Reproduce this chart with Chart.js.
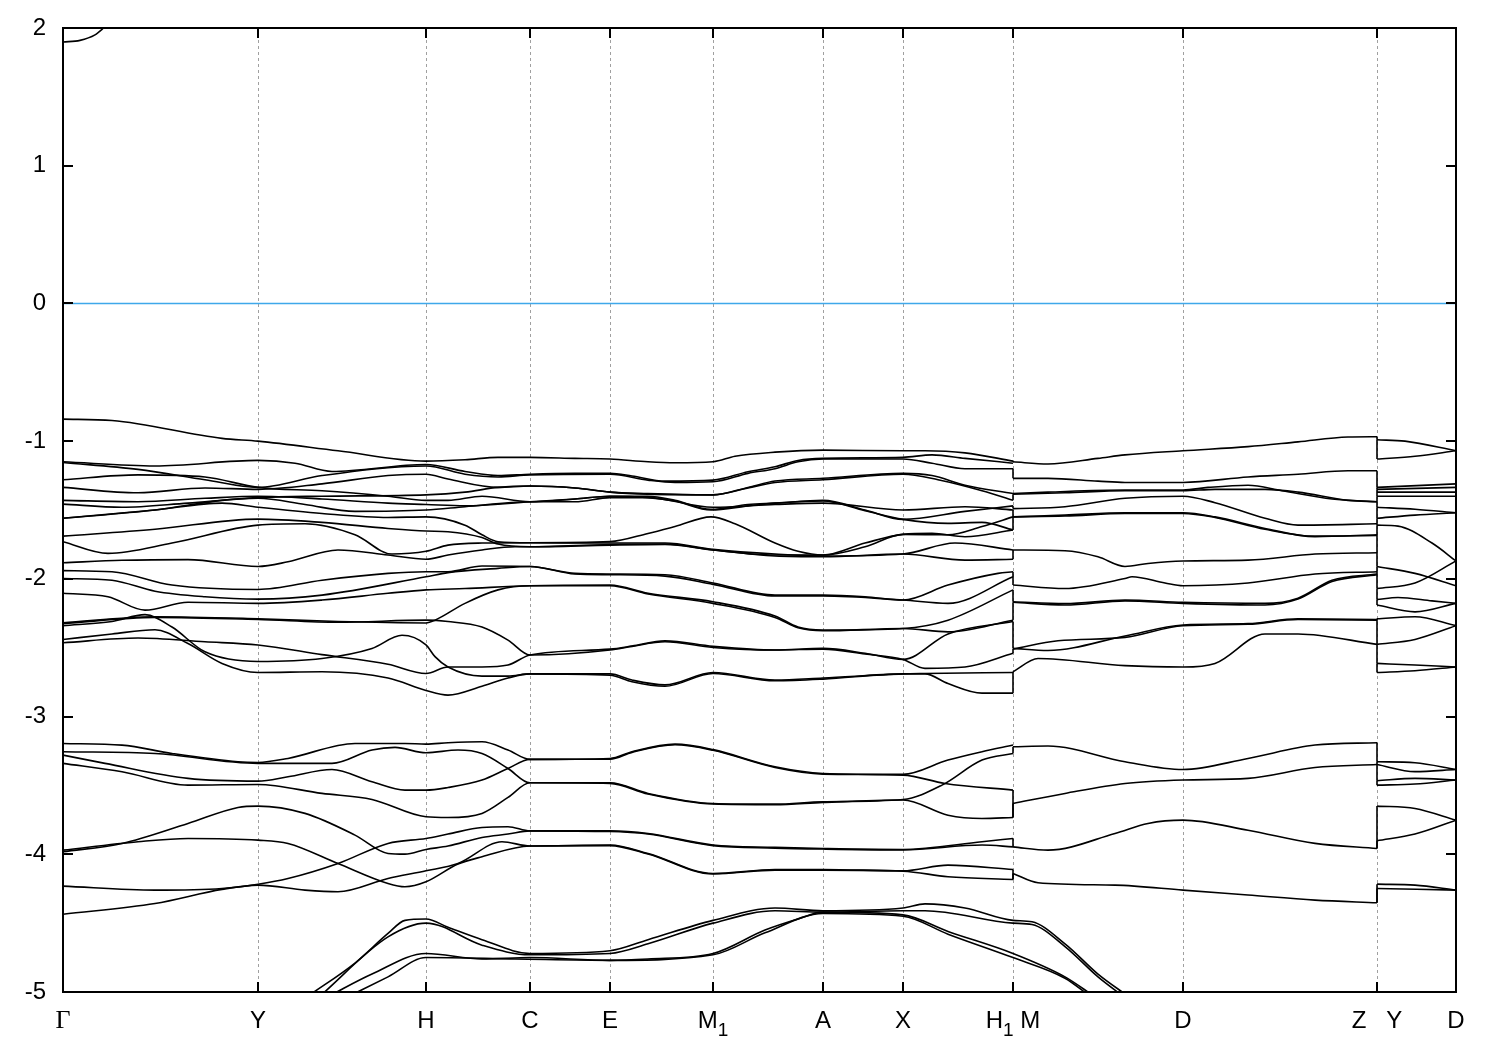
<!DOCTYPE html>
<html><head><meta charset="utf-8">
<script src="https://cdn.jsdelivr.net/npm/chart.js@4/dist/chart.umd.min.js"></script>
<style>html,body{margin:0;padding:0;background:#fff}canvas{display:block}</style>
</head><body>
<canvas id="c" width="1500" height="1050"></canvas>
<script>
// ---- axis data ----
const kTicks = [0,195,363,467,547,650,760,840,950,1120,1314,1393];
const tickLabels = ['Γ','Y','H','C','E','M_1','A','X','H_1 M','D','Z   Y','D'];
const energyTicks = [2,1,0,-1,-2,-3,-4,-5];

// ---- bands: [k, E(eV)] ----
const conductionBand = [[0,1.898],[17,1.91],[32,1.95],[39,1.99],[46,2.04]];
const fermiLine = [[0,0],[1393,0]];

// leg Γ -> H1
const A01 = [[0,-0.84],[49,-0.85],[159,-0.98],[195,-1.00],[275,-1.07],[363,-1.145],[402,-1.135],[435,-1.118],[467,-1.118],[512,-1.125],[547,-1.13],[585,-1.15],[612,-1.157],[650,-1.15],[672,-1.11],[712,-1.08],[760,-1.065],[840,-1.07],[862,-1.07],[902,-1.085],[950,-1.145]];
const A02 = [[0,-1.15],[92,-1.18],[195,-1.14],[232,-1.16],[269,-1.22],[363,-1.17],[402,-1.22],[435,-1.25],[467,-1.24],[512,-1.234],[547,-1.234],[569,-1.253],[602,-1.29],[650,-1.283],[685,-1.222],[712,-1.186],[735,-1.14],[760,-1.125],[840,-1.118],[869,-1.10],[902,-1.125],[950,-1.16]];
const A03 = [[0,-1.155],[75,-1.205],[142,-1.28],[195,-1.336],[259,-1.25],[363,-1.18],[402,-1.24],[435,-1.26],[467,-1.245],[547,-1.24],[585,-1.283],[612,-1.30],[650,-1.295],[685,-1.234],[712,-1.20],[735,-1.15],[760,-1.13],[840,-1.13],[869,-1.16],[902,-1.20],[950,-1.20]];
const A04 = [[0,-1.28],[75,-1.245],[142,-1.26],[195,-1.336],[259,-1.36],[325,-1.40],[363,-1.43],[385,-1.43],[419,-1.40],[467,-1.44],[512,-1.42],[547,-1.40],[585,-1.40],[612,-1.43],[648,-1.495],[685,-1.46],[712,-1.45],[760,-1.43],[802,-1.50],[840,-1.568],[902,-1.51],[950,-1.47]];
const A05 = [[0,-1.336],[75,-1.375],[142,-1.34],[195,-1.35],[259,-1.31],[325,-1.25],[363,-1.24],[385,-1.275],[435,-1.336],[467,-1.326],[512,-1.34],[547,-1.37],[585,-1.38],[650,-1.39],[685,-1.336],[712,-1.29],[760,-1.27],[840,-1.234],[869,-1.25],[902,-1.32],[950,-1.38]];
const A06 = [[0,-1.43],[75,-1.44],[142,-1.415],[195,-1.40],[259,-1.42],[325,-1.45],[363,-1.46],[402,-1.47],[467,-1.44],[512,-1.42],[547,-1.40],[585,-1.41],[612,-1.435],[648,-1.50],[685,-1.47],[712,-1.45],[760,-1.435],[802,-1.505],[840,-1.568],[885,-1.597],[919,-1.59],[950,-1.645]];
const A07 = [[0,-1.457],[59,-1.48],[125,-1.45],[195,-1.415],[242,-1.46],[292,-1.51],[363,-1.50],[402,-1.476],[467,-1.44],[512,-1.44],[547,-1.41],[585,-1.41],[650,-1.48],[712,-1.46],[760,-1.45],[840,-1.50],[902,-1.476],[950,-1.50]];
const A08 = [[0,-1.56],[92,-1.50],[159,-1.43],[195,-1.41],[259,-1.40],[363,-1.39],[402,-1.37],[435,-1.336],[467,-1.326],[512,-1.34],[547,-1.37],[585,-1.385],[650,-1.39],[685,-1.34],[712,-1.30],[760,-1.28],[840,-1.24],[875,-1.28],[919,-1.36],[950,-1.43]];
const A09 = [[0,-1.69],[92,-1.64],[195,-1.566],[259,-1.59],[325,-1.634],[363,-1.653],[385,-1.658],[419,-1.70],[435,-1.747],[467,-1.767],[547,-1.75],[602,-1.747],[650,-1.79],[712,-1.827],[760,-1.827],[802,-1.767],[840,-1.677],[885,-1.68],[919,-1.62],[950,-1.55]];
const A10 = [[0,-1.73],[45,-1.815],[109,-1.74],[195,-1.61],[242,-1.60],[292,-1.68],[329,-1.82],[363,-1.80],[385,-1.755],[419,-1.74],[467,-1.738],[547,-1.74],[602,-1.74],[650,-1.786],[712,-1.82],[760,-1.834],[840,-1.82],[892,-1.74],[950,-1.79]];
const A11 = [[0,-1.883],[59,-1.865],[125,-1.86],[195,-1.91],[225,-1.876],[275,-1.79],[325,-1.827],[363,-1.858],[385,-1.827],[419,-1.79],[452,-1.767],[467,-1.767],[547,-1.755],[602,-1.75],[650,-1.79],[712,-1.834],[760,-1.84],[840,-1.82],[902,-1.864],[950,-1.858]];
const A12 = [[0,-1.56],[92,-1.50],[159,-1.45],[195,-1.48],[259,-1.525],[325,-1.554],[363,-1.55],[402,-1.61],[419,-1.68],[435,-1.73],[467,-1.738],[547,-1.73],[585,-1.67],[612,-1.62],[648,-1.55],[672,-1.60],[712,-1.74],[735,-1.80],[760,-1.827],[802,-1.74],[840,-1.677],[869,-1.67],[902,-1.694],[950,-1.645]];
const A13 = [[0,-1.94],[49,-1.948],[109,-2.045],[195,-2.077],[259,-2.01],[325,-1.96],[363,-1.948],[385,-1.948],[419,-1.907],[467,-1.91],[512,-1.96],[547,-1.965],[602,-1.97],[650,-2.03],[712,-2.118],[760,-2.118],[802,-2.13],[840,-2.154],[885,-2.045],[935,-1.96],[950,-1.948]];
const A14 = [[0,-1.997],[49,-2.01],[92,-2.09],[142,-2.13],[195,-2.147],[259,-2.118],[363,-1.985],[385,-1.955],[435,-1.924],[467,-1.91],[512,-1.965],[547,-1.97],[602,-1.98],[650,-2.04],[712,-2.125],[760,-2.125],[840,-2.154],[885,-2.178],[950,-1.985]];
const A15 = [[0,-2.105],[45,-2.13],[82,-2.227],[125,-2.17],[195,-2.178],[259,-2.154],[325,-2.105],[363,-2.08],[402,-2.07],[467,-2.05],[547,-2.045],[585,-2.105],[650,-2.166],[712,-2.27],[735,-2.35],[760,-2.372],[840,-2.36],[885,-2.30],[950,-2.08]];
const A16 = [[0,-2.32],[92,-2.275],[195,-2.29],[275,-2.31],[363,-2.32],[372,-2.30],[402,-2.178],[435,-2.08],[467,-2.05],[547,-2.05],[585,-2.11],[650,-2.178],[712,-2.28],[735,-2.355],[760,-2.377],[840,-2.36],[885,-2.385],[950,-2.30]];
const A17 = [[0,-2.325],[92,-2.28],[195,-2.295],[275,-2.315],[363,-2.30],[385,-2.31],[419,-2.35],[445,-2.445],[467,-2.553],[547,-2.517],[569,-2.49],[602,-2.457],[650,-2.498],[712,-2.517],[760,-2.505],[802,-2.54],[840,-2.585],[885,-2.40],[950,-2.31]];
const A18 = [[0,-2.34],[49,-2.31],[82,-2.26],[109,-2.35],[142,-2.53],[195,-2.60],[259,-2.578],[309,-2.505],[339,-2.41],[363,-2.48],[372,-2.565],[385,-2.64],[419,-2.706],[445,-2.706],[467,-2.69],[547,-2.69],[569,-2.735],[602,-2.77],[650,-2.68],[712,-2.735],[760,-2.72],[840,-2.69],[862,-2.687],[950,-2.68]];
const A19 = [[0,-2.464],[75,-2.43],[142,-2.457],[195,-2.48],[259,-2.55],[325,-2.62],[363,-2.687],[385,-2.64],[419,-2.64],[445,-2.626],[467,-2.553],[547,-2.51],[569,-2.488],[602,-2.45],[650,-2.49],[712,-2.517],[760,-2.51],[802,-2.546],[840,-2.585],[862,-2.65],[902,-2.64],[950,-2.54]];
const A20 = [[0,-2.44],[49,-2.40],[92,-2.37],[125,-2.47],[159,-2.614],[195,-2.68],[259,-2.675],[325,-2.72],[363,-2.81],[385,-2.844],[419,-2.78],[445,-2.72],[467,-2.69],[547,-2.70],[569,-2.747],[602,-2.78],[650,-2.687],[712,-2.74],[760,-2.728],[840,-2.69],[862,-2.69],[885,-2.76],[919,-2.83],[950,-2.83]];
const A21 = [[0,-3.195],[59,-3.207],[109,-3.268],[175,-3.328],[195,-3.333],[225,-3.304],[292,-3.195],[342,-3.195],[363,-3.20],[385,-3.19],[419,-3.183],[445,-3.243],[467,-3.311],[547,-3.304],[569,-3.255],[612,-3.20],[650,-3.24],[712,-3.365],[760,-3.413],[840,-3.42],[885,-3.316],[919,-3.255],[950,-3.207]];
const A22 = [[0,-3.255],[92,-3.268],[195,-3.34],[269,-3.34],[309,-3.243],[332,-3.224],[363,-3.263],[395,-3.243],[419,-3.268],[445,-3.377],[467,-3.481],[547,-3.481],[585,-3.558],[650,-3.631],[712,-3.636],[760,-3.619],[840,-3.602],[879,-3.498],[919,-3.316],[950,-3.268]];
const A23 = [[0,-3.28],[42,-3.34],[125,-3.449],[195,-3.469],[225,-3.437],[269,-3.384],[309,-3.474],[342,-3.534],[363,-3.534],[385,-3.515],[419,-3.461],[445,-3.377],[467,-3.311],[547,-3.31],[569,-3.26],[612,-3.205],[650,-3.245],[712,-3.37],[760,-3.418],[840,-3.425],[882,-3.486],[950,-3.534]];
const A24 = [[0,-3.34],[59,-3.401],[125,-3.498],[195,-3.493],[259,-3.558],[309,-3.602],[363,-3.728],[385,-3.733],[419,-3.703],[445,-3.587],[467,-3.481],[547,-3.485],[585,-3.562],[650,-3.635],[712,-3.64],[760,-3.623],[840,-3.606],[885,-3.716],[919,-3.74],[950,-3.733]];
const A25 = [[0,-3.97],[75,-3.909],[125,-3.885],[195,-3.897],[225,-3.921],[275,-4.067],[325,-4.212],[342,-4.236],[363,-4.20],[395,-4.071],[419,-4.018],[467,-3.94],[547,-3.937],[585,-3.998],[650,-4.143],[712,-4.115],[760,-4.115],[840,-4.123],[885,-4.163],[950,-4.183]];
const A26 = [[0,-3.982],[59,-3.921],[125,-3.776],[175,-3.66],[195,-3.65],[242,-3.703],[292,-3.861],[325,-3.994],[342,-3.999],[363,-3.965],[385,-3.94],[419,-3.878],[445,-3.853],[467,-3.83],[547,-3.835],[585,-3.853],[650,-3.937],[712,-3.955],[760,-3.962],[840,-3.968],[919,-3.933],[950,-3.946]];
const A27 = [[0,-4.231],[92,-4.26],[159,-4.248],[195,-4.217],[225,-4.176],[275,-4.067],[325,-3.921],[363,-3.885],[385,-3.853],[419,-3.805],[445,-3.80],[467,-3.83],[547,-3.83],[585,-3.849],[650,-3.933],[712,-3.95],[760,-3.958],[840,-3.965],[919,-3.909],[950,-3.885]];
const A28 = [[0,-4.435],[92,-4.357],[159,-4.255],[195,-4.224],[242,-4.26],[275,-4.272],[325,-4.176],[363,-4.12],[395,-4.067],[439,-3.909],[467,-3.94],[547,-3.933],[585,-3.994],[650,-4.139],[712,-4.11],[760,-4.11],[840,-4.12],[885,-4.079],[950,-4.11]];
const E01 = [[245,-5.03],[292,-4.79],[325,-4.575],[342,-4.48],[363,-4.47],[385,-4.53],[419,-4.62],[467,-4.72],[547,-4.70],[585,-4.62],[650,-4.48],[712,-4.39],[760,-4.41],[840,-4.39],[862,-4.36],[902,-4.39],[950,-4.48],[969,-4.49],[1002,-4.65],[1035,-4.87],[1065,-5.03]];
const E02 = [[257,-5.03],[325,-4.60],[363,-4.50],[419,-4.66],[467,-4.73],[547,-4.72],[585,-4.65],[650,-4.50],[712,-4.41],[760,-4.42],[840,-4.41],[862,-4.41],[950,-4.50],[969,-4.51],[1002,-4.67],[1035,-4.89],[1060,-5.03]];
const E03 = [[266,-5.03],[309,-4.87],[363,-4.72],[419,-4.76],[467,-4.75],[547,-4.77],[585,-4.76],[650,-4.72],[702,-4.55],[735,-4.47],[760,-4.42],[840,-4.44],[885,-4.56],[950,-4.72],[1002,-4.89],[1031,-5.03]];
const E04 = [[286,-5.03],[325,-4.89],[363,-4.75],[452,-4.76],[547,-4.77],[650,-4.73],[702,-4.57],[760,-4.43],[840,-4.45],[885,-4.58],[950,-4.75],[1002,-4.90],[1027,-5.03]];

// leg M -> Z
const B01 = [[950,-1.145],[950,-1.15],[985,-1.166],[1035,-1.125],[1062,-1.10],[1120,-1.07],[1185,-1.04],[1235,-1.005],[1285,-0.97],[1314,-0.968]];
const B02 = [[950,-1.20],[950,-1.27],[985,-1.27],[1035,-1.29],[1062,-1.30],[1120,-1.30],[1185,-1.26],[1235,-1.24],[1285,-1.215],[1314,-1.215]];
const B03 = [[950,-1.38],[985,-1.37],[1062,-1.355],[1120,-1.355],[1145,-1.336],[1185,-1.32],[1219,-1.36],[1269,-1.42],[1314,-1.44]];
const B04 = [[950,-1.43],[950,-1.385],[1002,-1.375],[1062,-1.36],[1120,-1.36],[1152,-1.35],[1202,-1.35],[1235,-1.37],[1285,-1.43],[1314,-1.44]];
const B05 = [[950,-1.47],[950,-1.49],[1002,-1.476],[1062,-1.415],[1120,-1.40],[1152,-1.447],[1202,-1.56],[1235,-1.61],[1314,-1.60]];
const B06 = [[950,-1.50],[950,-1.55],[1002,-1.537],[1062,-1.52],[1120,-1.52],[1152,-1.55],[1202,-1.634],[1252,-1.694],[1314,-1.68]];
const B07 = [[950,-1.645],[950,-1.55],[1002,-1.544],[1062,-1.525],[1120,-1.525],[1152,-1.554],[1202,-1.64],[1252,-1.69],[1314,-1.685]];
const B08 = [[950,-1.858],[950,-1.79],[1002,-1.796],[1035,-1.84],[1062,-1.91],[1085,-1.888],[1120,-1.87],[1185,-1.864],[1252,-1.82],[1314,-1.81]];
const B09 = [[950,-1.948],[950,-2.045],[1002,-2.07],[1062,-1.997],[1069,-1.985],[1102,-2.03],[1120,-2.05],[1185,-2.03],[1252,-1.965],[1314,-1.948]];
const B10 = [[950,-2.08],[950,-2.166],[1002,-2.18],[1062,-2.154],[1120,-2.17],[1202,-2.178],[1235,-2.14],[1269,-2.01],[1314,-1.965]];
const B11 = [[950,-2.30],[950,-2.17],[1002,-2.19],[1062,-2.16],[1120,-2.178],[1202,-2.19],[1235,-2.147],[1269,-2.02],[1314,-1.97]];
const B12 = [[950,-2.31],[950,-2.505],[985,-2.52],[1062,-2.415],[1120,-2.335],[1185,-2.325],[1235,-2.29],[1314,-2.295]];
const B13 = [[950,-2.54],[950,-2.51],[995,-2.45],[1062,-2.425],[1120,-2.34],[1185,-2.33],[1235,-2.295],[1314,-2.30]];
const B14 = [[950,-2.83],[950,-2.675],[975,-2.578],[1062,-2.63],[1120,-2.64],[1152,-2.614],[1202,-2.40],[1235,-2.40],[1314,-2.476]];
const B15 = [[950,-3.268],[950,-3.219],[985,-3.214],[1062,-3.328],[1120,-3.384],[1185,-3.304],[1252,-3.207],[1314,-3.19]];
const B16 = [[950,-3.534],[950,-3.733],[950,-3.631],[1002,-3.558],[1062,-3.486],[1120,-3.461],[1185,-3.449],[1252,-3.37],[1314,-3.348]];
const B17 = [[950,-3.885],[950,-3.946],[985,-3.97],[1052,-3.849],[1085,-3.776],[1120,-3.752],[1185,-3.825],[1252,-3.921],[1314,-3.958]];
const B18 = [[950,-4.11],[950,-4.183],[950,-4.139],[975,-4.207],[1052,-4.224],[1120,-4.26],[1185,-4.296],[1252,-4.333],[1314,-4.352]];

// leg Y -> D
const C01 = [[1314,-0.968],[1314,-0.99],[1342,-1.00],[1393,-1.07]];
const C02 = [[1314,-0.99],[1314,-1.13],[1352,-1.11],[1393,-1.07]];
const C03 = [[1314,-1.215],[1314,-1.336],[1393,-1.31]];
const C04 = [[1314,-1.336],[1314,-1.35],[1393,-1.336]];
const C05 = [[1314,-1.35],[1314,-1.37],[1393,-1.37]];
const C06 = [[1314,-1.37],[1314,-1.40],[1393,-1.40]];
const C07 = [[1314,-1.40],[1314,-1.48],[1352,-1.495],[1393,-1.52]];
const C08 = [[1314,-1.48],[1314,-1.56],[1352,-1.537],[1393,-1.52]];
const C09 = [[1314,-1.56],[1314,-1.61],[1335,-1.617],[1369,-1.74],[1393,-1.87]];
const C10 = [[1314,-1.61],[1314,-1.91],[1352,-1.96],[1393,-2.05]];
const C11 = [[1314,-1.91],[1314,-2.07],[1352,-2.03],[1393,-1.87]];
const C12 = [[1314,-2.07],[1314,-2.15],[1335,-2.135],[1369,-2.16],[1393,-2.178]];
const C13 = [[1314,-2.15],[1314,-2.19],[1352,-2.24],[1393,-2.178]];
const C14 = [[1314,-2.295],[1314,-2.29],[1352,-2.275],[1393,-2.34]];
const C15 = [[1314,-2.29],[1314,-2.476],[1352,-2.44],[1393,-2.34]];
const C16 = [[1314,-2.476],[1314,-2.614],[1352,-2.626],[1393,-2.64]];
const C17 = [[1314,-2.614],[1314,-2.68],[1352,-2.667],[1393,-2.64]];
const C18 = [[1314,-3.19],[1314,-3.328],[1352,-3.335],[1393,-3.384]];
const C19 = [[1314,-3.328],[1314,-3.348],[1352,-3.40],[1393,-3.384]];
const C20 = [[1314,-3.348],[1314,-3.466],[1352,-3.449],[1393,-3.461]];
const C21 = [[1314,-3.466],[1314,-3.498],[1352,-3.49],[1393,-3.461]];
const C22 = [[1314,-3.958],[1314,-3.65],[1352,-3.667],[1393,-3.752]];
const C23 = [[1314,-3.958],[1314,-3.902],[1352,-3.853],[1393,-3.752]];
const C24 = [[1314,-4.352],[1314,-4.217],[1352,-4.224],[1393,-4.26]];
const C25 = [[1314,-4.352],[1314,-4.248],[1393,-4.26]];

const bandList = [conductionBand,
  A01,A02,A03,A04,A05,A06,A07,A08,A09,A10,A11,A12,A13,A14,A15,A16,A17,A18,A19,A20,A21,A22,A23,A24,A25,A26,A27,A28,
  E01,E02,E03,E04,
  B01,B02,B03,B04,B05,B06,B07,B08,B09,B10,B11,B12,B13,B14,B15,B16,B17,B18,
  C01,C02,C03,C04,C05,C06,C07,C08,C09,C10,C11,C12,C13,C14,C15,C16,C17,C18,C19,C20,C21,C22,C23,C24,C25];

// split a band at repeated k (vertical jumps) so each piece can be smoothly interpolated
function pieces(arr){
  const out=[]; let cur=[arr[0]];
  for(let i=1;i<arr.length;i++){
    if(arr[i][0]===arr[i-1][0]){
      if(cur.length>1) out.push(cur);
      out.push([arr[i-1],arr[i]]);
      cur=[arr[i]];
    } else cur.push(arr[i]);
  }
  if(cur.length>1) out.push(cur);
  return out;
}
const datasets=[];
datasets.push({data:fermiLine.map(p=>({x:p[0],y:p[1]})),showLine:true,borderColor:'#3fa8ea',borderWidth:1.6,pointRadius:0,fill:false});
for(const b of bandList){
  for(const seg of pieces(b)){
    datasets.push({data:seg.map(p=>({x:p[0],y:p[1]})),showLine:true,borderColor:'#000',borderWidth:1.6,pointRadius:0,fill:false,cubicInterpolationMode:'monotone'});
  }
}

const framePlugin={
  id:'frame',
  beforeDatasetsDraw(chart){
    const {ctx,chartArea:a,scales:{x}}=chart;
    ctx.save();
    ctx.strokeStyle='#a0a0a0';ctx.lineWidth=1;ctx.setLineDash([3,3]);
    for(const v of kTicks.slice(1,-1)){
      const px=Math.round(x.getPixelForValue(v))+0.5;
      ctx.beginPath();ctx.moveTo(px,a.top);ctx.lineTo(px,a.bottom);ctx.stroke();
    }
    ctx.restore();
  },
  afterDatasetsDraw(chart){
    const {ctx,chartArea:a,scales:{x,y}}=chart;
    ctx.save();
    ctx.strokeStyle='#000';ctx.lineWidth=2;ctx.setLineDash([]);
    ctx.strokeRect(a.left,a.top,a.right-a.left,a.bottom-a.top);
    ctx.beginPath();
    for(const e of energyTicks){
      const py=Math.round(y.getPixelForValue(e));
      ctx.moveTo(a.left,py);ctx.lineTo(a.left+10,py);
      ctx.moveTo(a.right,py);ctx.lineTo(a.right-10,py);
    }
    for(const v of kTicks){
      const px=Math.round(x.getPixelForValue(v));
      ctx.moveTo(px,a.bottom);ctx.lineTo(px,a.bottom-10);
      ctx.moveTo(px,a.top);ctx.lineTo(px,a.top+10);
    }
    ctx.stroke();
    // x tick labels (with gnuplot-style subscripts)
    ctx.fillStyle='#000';ctx.textBaseline='alphabetic';ctx.textAlign='left';
    const base=a.bottom+36;
    kTicks.forEach((v,i)=>{
      const lab=tickLabels[i];
      const parts=[];
      const re=/_(\d)/g; let last=0,m;
      while((m=re.exec(lab))){ if(m.index>last) parts.push([lab.slice(last,m.index),0]); parts.push([m[1],1]); last=re.lastIndex; }
      if(last<lab.length) parts.push([lab.slice(last),0]);
      const fontFor=(p)=> p[1]? '19px "Liberation Sans"' : (p[0]==='Γ' ? '26px "Liberation Serif"' : '24px "Liberation Sans"');
      let w=0; for(const p of parts){ctx.font=fontFor(p); w+=ctx.measureText(p[0]).width;}
      let cx=x.getPixelForValue(v)-w/2;
      for(const p of parts){ctx.font=fontFor(p); ctx.fillText(p[0],cx,base+(p[1]?8:0)); cx+=ctx.measureText(p[0]).width;}
    });
    ctx.restore();
  }
};

new Chart(document.getElementById('c'),{
  type:'scatter',
  data:{datasets},
  options:{
    responsive:false,animation:false,devicePixelRatio:1,
    layout:{padding:{left:0,right:44,top:28,bottom:0}},
    plugins:{legend:{display:false},tooltip:{enabled:false}},
    elements:{point:{radius:0}},
    scales:{
      x:{type:'linear',min:0,max:1393,
        afterBuildTicks:s=>{s.ticks=kTicks.map(v=>({value:v}));},
        afterFit:s=>{s.height=58;s.paddingLeft=0;s.paddingRight=0;s.paddingTop=0;s.paddingBottom=0;},
        grid:{display:false,drawTicks:false},border:{display:false},
        ticks:{display:false}},
      y:{min:-5,max:2,
        afterBuildTicks:s=>{s.ticks=energyTicks.map(v=>({value:v}));},
        afterFit:s=>{s.width=63;s.paddingTop=0;s.paddingBottom=0;s.paddingLeft=0;s.paddingRight=0;},
        grid:{display:false,drawTicks:false},border:{display:false},
        ticks:{padding:17,color:'#000',font:{family:'Liberation Sans',size:24},callback:v=>String(v)}}
    }
  },
  plugins:[framePlugin]
});
</script>
</body></html>
